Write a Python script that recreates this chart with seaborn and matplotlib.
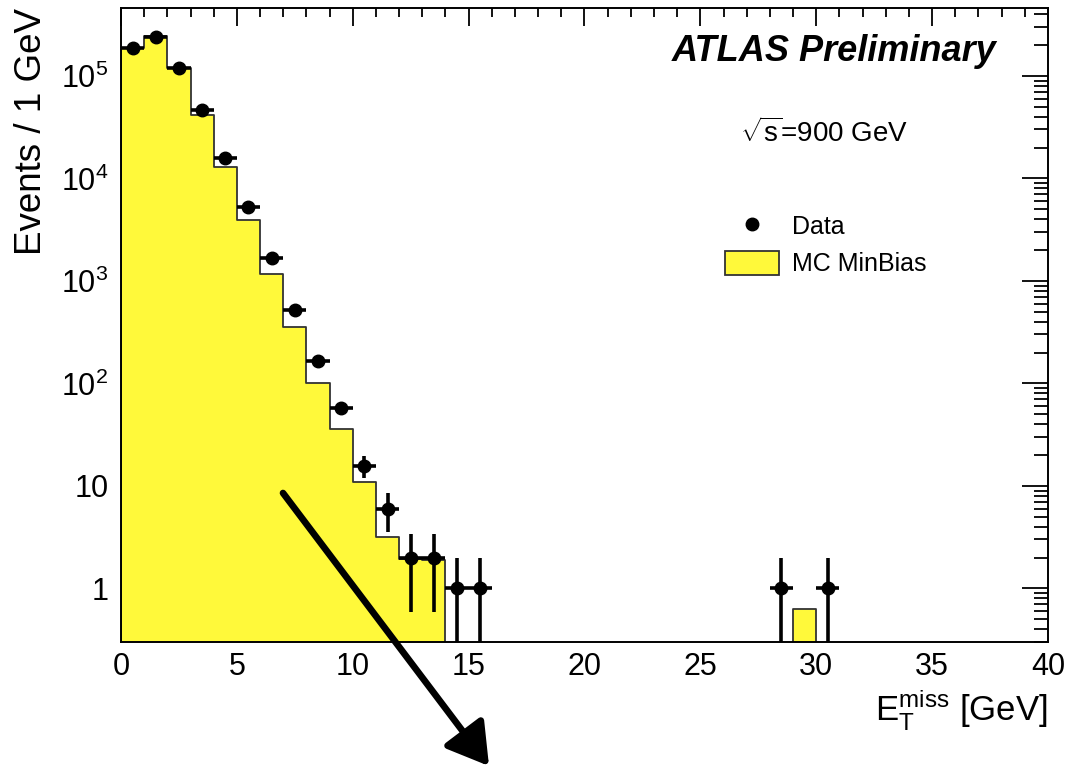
import numpy as np
import pandas as pd
import matplotlib
matplotlib.use("Agg")
import matplotlib.pyplot as plt
import seaborn as sns
from matplotlib.lines import Line2D
from matplotlib.patches import Patch, FancyArrowPatch
from matplotlib.ticker import FixedLocator, FixedFormatter, LogLocator, MultipleLocator, NullFormatter

# ---------------- data ----------------
# MC MinBias histogram, 1 GeV bins (lower edges 0..39)
mc_bin_low = list(range(40))
mc_counts = [1.89e5, 2.46e5, 1.2e5, 4.16e4, 1.29e4, 3.93e3, 1.16e3, 354, 100, 35.7,
             10.9, 3.2, 1.95, 1.9, 0, 0, 0, 0, 0, 0,
             0, 0, 0, 0, 0, 0, 0, 0, 0, 0.63,
             0, 0, 0, 0, 0, 0, 0, 0, 0, 0]

# Data points (bin centres and counts)
data_x = [0.5, 1.5, 2.5, 3.5, 4.5, 5.5, 6.5, 7.5, 8.5, 9.5,
          10.5, 11.5, 12.5, 13.5, 14.5, 15.5, 28.5, 30.5]
data_counts = [1.86e5, 2.42e5, 1.19e5, 4.6e4, 1.58e4, 5.25e3, 1.67e3, 519, 165, 58,
               15.8, 6, 2, 2, 1, 1, 1, 1]

y_tick_values = [1, 10, 1e2, 1e3, 1e4, 1e5]
y_tick_labels = ["1", "10", r"$10^{2}$", r"$10^{3}$", r"$10^{4}$", r"$10^{5}$"]

legend_labels = ["Data", "MC MinBias"]

# ---------------- style ----------------
sns.set_style("white")
plt.rcParams["font.family"] = ["Liberation Sans", "DejaVu Sans"]
plt.rcParams["mathtext.fontset"] = "custom"
plt.rcParams["mathtext.rm"] = "Liberation Sans"
plt.rcParams["mathtext.it"] = "Liberation Sans:italic"
plt.rcParams["mathtext.bf"] = "Liberation Sans:bold"
for k in ["text.color", "axes.labelcolor", "xtick.color", "ytick.color", "axes.edgecolor"]:
    plt.rcParams[k] = "black"

yellow = "#FFF93A"
edge = "#333333"

fig = plt.figure(figsize=(10.7, 7.67), dpi=100, facecolor="white")
ax = fig.add_axes([0.1131, 0.1630, 0.8663, 0.8266])

df_mc = pd.DataFrame({"x": np.array(mc_bin_low) + 0.5, "w": mc_counts})
sns.histplot(data=df_mc, x="x", weights="w", bins=40, binrange=(0, 40), element="step",
             fill=True, color=yellow, alpha=1, edgecolor=edge,
             linewidth=1.3, ax=ax, zorder=1)

dx = np.array(data_x)
dy = np.array(data_counts)
err = np.sqrt(dy)
lo = np.minimum(err, dy * 0.9999)
ax.errorbar(dx, dy, xerr=0.5, yerr=[lo, err], fmt="o", color="black", ms=9,
            elinewidth=2.6, capsize=0, zorder=3)

ax.set_yscale("log")
ax.set_xlim(0, 40)
ax.set_ylim(0.3, 4.6e5)

ax.xaxis.set_major_locator(MultipleLocator(5))
ax.xaxis.set_minor_locator(MultipleLocator(1))
ax.yaxis.set_major_locator(FixedLocator(y_tick_values))
ax.yaxis.set_major_formatter(FixedFormatter(y_tick_labels))
ax.yaxis.set_minor_locator(LogLocator(base=10, subs=np.arange(2, 10)))
ax.yaxis.set_minor_formatter(NullFormatter())

ax.tick_params(which="both", direction="in", top=True, right=True, color="black",
               labelcolor="black", width=1.3)
ax.tick_params(axis="x", which="major", length=13, labelsize=22, pad=7)
ax.tick_params(axis="x", which="minor", length=6.5)
ax.tick_params(axis="y", which="major", length=19, labelsize=22, pad=9)
ax.tick_params(axis="y", which="minor", length=10)
for s in ax.spines.values():
    s.set_linewidth(1.4)
    s.set_color("black")

ax.set_ylabel("Events / 1 GeV", fontsize=26.5, loc="top", labelpad=9, color="black")
ax.set_xlabel(r"$\mathrm{E}_{\mathrm{T}}^{\mathrm{miss}}$ [GeV]", fontsize=25, loc="right",
              labelpad=4, color="black")

ax.text(0.944, 0.9306, "ATLAS Preliminary", transform=ax.transAxes, fontsize=26,
        fontweight="bold", fontstyle="italic", ha="right", va="center", color="black")
ax.text(0.668, 0.803, r"$\sqrt{\mathrm{s}}$=900 GeV", transform=ax.transAxes,
        fontsize=20, ha="left", va="center", color="black")

handles = [Line2D([], [], marker="o", color="black", linestyle="none", ms=9),
           Patch(facecolor=yellow, edgecolor=edge, linewidth=1.3)]
ax.legend(handles, legend_labels, loc="upper left", bbox_to_anchor=(725 / 1070, 1 - 214 / 767),
          bbox_transform=fig.transFigure, frameon=False, fontsize=18, handlelength=2.16,
          handleheight=1.1, handletextpad=0.52, labelspacing=0.45, borderpad=0,
          borderaxespad=0, labelcolor="black")

arrow = FancyArrowPatch((283 / 1070, 1 - 493 / 767), (489 / 1070, 1 - 766 / 767),
                        transform=fig.transFigure,
                        arrowstyle="-|>,head_length=1.25,head_width=0.75",
                        mutation_scale=20, lw=4.8, color="black",
                        shrinkA=0, shrinkB=0, zorder=10)
fig.add_artist(arrow)

fig.savefig("out.png", dpi=100, facecolor="white")
